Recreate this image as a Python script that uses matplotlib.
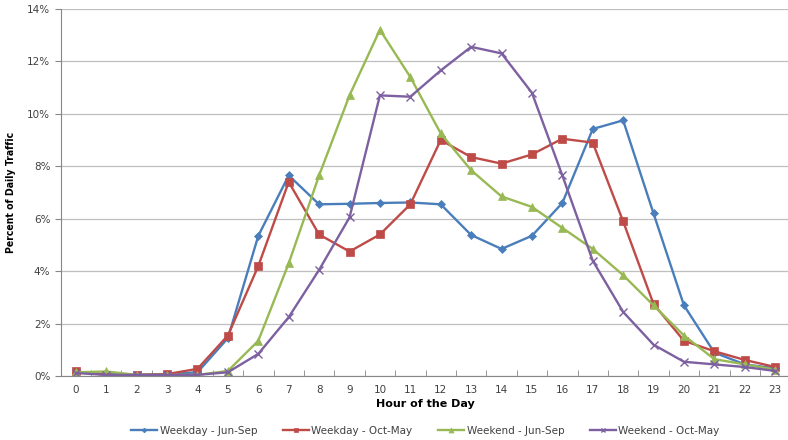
import numpy as np
import matplotlib
matplotlib.use("Agg")
import matplotlib.pyplot as plt
from matplotlib.ticker import PercentFormatter, MultipleLocator

# hourly share of daily traffic (%)
hours = list(range(24))
weekday_jun_sep = [0.15, 0.08, 0.05, 0.07, 0.15, 1.45, 5.35, 7.65, 6.55, 6.57, 6.60, 6.62,
                   6.55, 5.38, 4.85, 5.35, 6.60, 9.42, 9.75, 6.20, 2.70, 0.90, 0.45, 0.30]
weekday_oct_may = [0.18, 0.05, 0.05, 0.08, 0.28, 1.55, 4.20, 7.40, 5.40, 4.75, 5.40, 6.55,
                   9.00, 8.35, 8.10, 8.45, 9.05, 8.90, 5.90, 2.75, 1.35, 0.95, 0.62, 0.35]
weekend_jun_sep = [0.15, 0.18, 0.05, 0.05, 0.05, 0.20, 1.35, 4.30, 7.65, 10.70, 13.20, 11.40,
                   9.25, 7.85, 6.85, 6.45, 5.65, 4.85, 3.85, 2.70, 1.55, 0.65, 0.45, 0.25]
weekend_oct_may = [0.12, 0.05, 0.05, 0.05, 0.05, 0.15, 0.85, 2.25, 4.05, 6.05, 10.70, 10.65,
                   11.65, 12.55, 12.30, 10.80, 7.65, 4.40, 2.45, 1.20, 0.55, 0.45, 0.35, 0.20]

series = [
    ("Weekday - Jun-Sep", weekday_jun_sep, "#4A7EBB", "D", 4),
    ("Weekday - Oct-May", weekday_oct_may, "#BE4B48", "s", 6),
    ("Weekend - Jun-Sep", weekend_jun_sep, "#98B954", "^", 6),
    ("Weekend - Oct-May", weekend_oct_may, "#7D60A0", "x", 6),
]

fig = plt.figure(figsize=(7.88, 4.40), dpi=100)
ax = fig.add_axes([0.077, 0.145, 0.926, 0.835])

for name, vals, col, mk, ms in series:
    ax.plot(hours, vals, color=col, marker=mk, markersize=ms, linewidth=1.7,
            markeredgewidth=1 if mk == "x" else 0.5, label=name)

ax.set_xlim(-0.5, 23.5)
ax.set_ylim(0, 14)
ax.set_xticks(hours)
ax.set_xticks(np.arange(-0.5, 24, 1), minor=True)
ax.yaxis.set_major_locator(MultipleLocator(2))
ax.yaxis.set_major_formatter(PercentFormatter(decimals=0))
ax.grid(axis="y", color="#BFBFBF", linewidth=0.9)
ax.set_axisbelow(True)

for s in ["top", "right"]:
    ax.spines[s].set_visible(False)
for s in ["left", "bottom"]:
    ax.spines[s].set_color("#868686")

ax.tick_params(axis="x", which="major", length=0, labelsize=7.5, colors="#404040", pad=6)
ax.tick_params(axis="x", which="minor", length=4, color="#868686", direction="in")
ax.tick_params(axis="y", length=4, color="#868686", labelsize=7.5, colors="#404040")

ax.set_xlabel("Hour of the Day", fontsize=8, fontweight="bold", labelpad=3)
ax.set_ylabel("Percent of Daily Traffic", fontsize=7.5, fontweight="bold",
              fontstretch="condensed", labelpad=8)

leg = ax.legend(loc="upper center", bbox_to_anchor=(0.5, -0.11), ncol=4, frameon=False,
                fontsize=7.5, handlelength=2.5, handletextpad=0.2, columnspacing=2.5,
                markerscale=0.6)
for t in leg.get_texts():
    t.set_color("#404040")

plt.savefig("out.png", dpi=100)
